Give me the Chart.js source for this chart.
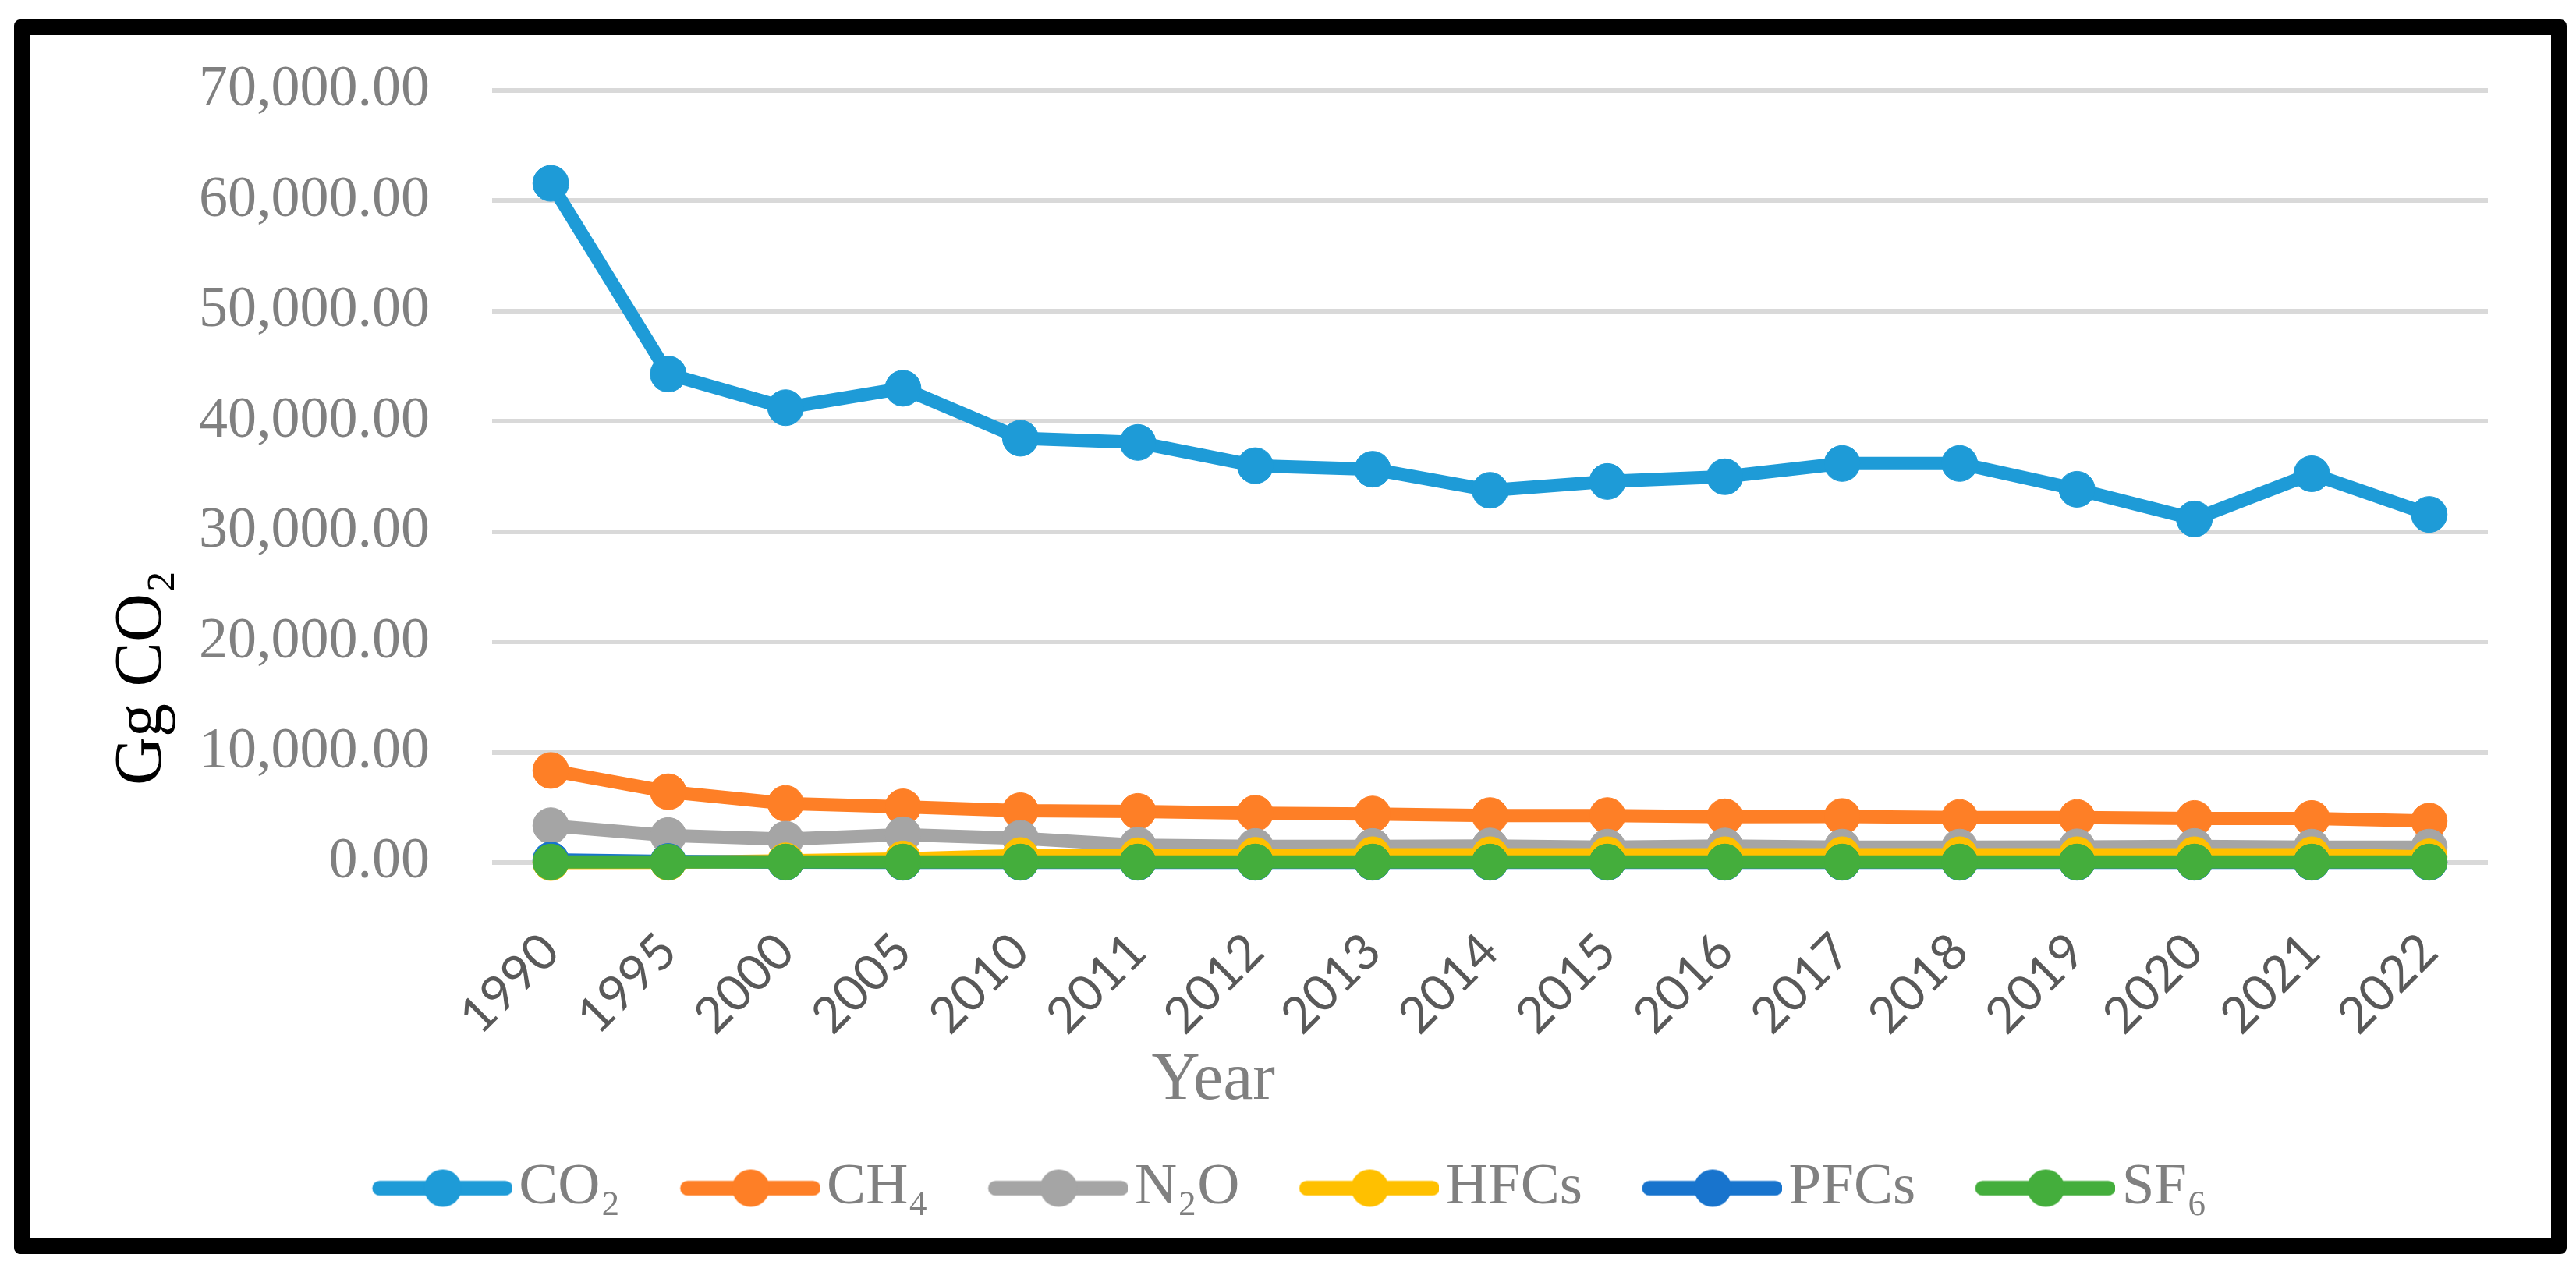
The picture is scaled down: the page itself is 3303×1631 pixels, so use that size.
<!DOCTYPE html>
<html>
<head>
<meta charset="utf-8">
<script src="https://cdn.jsdelivr.net/npm/chart.js"></script>
<style>
  html, body { margin: 0; padding: 0; background: #fff; }
  #frame {
    position: absolute; left: 18px; top: 25px;
    width: 3273px; height: 1583px;
    box-sizing: border-box; border: 20px solid #000; border-radius: 8px;
    background: #fff;
  }
  #wrap { position: relative; width: 3233px; height: 1543px; }
</style>
</head>
<body>
<div id="frame"><div id="wrap"><canvas id="ghgChart"></canvas></div></div>
<script>
// emissions by gas, Gg CO2 eq
const years = ['1990', '1995', '2000', '2005', '2010', '2011', '2012', '2013', '2014',
  '2015', '2016', '2017', '2018', '2019', '2020', '2021', '2022'];
const co2 = [61580, 44290, 41240, 43000, 38470, 38090, 35980, 35660, 33750,
  34550, 34980, 36180, 36180, 33840, 31150, 35250, 31560];
const ch4 = [8350, 6420, 5360, 5050, 4700, 4640, 4470, 4400, 4260,
  4260, 4150, 4180, 4090, 4090, 4000, 4000, 3760];
const n2o = [3340, 2450, 2120, 2520, 2200, 1580, 1460, 1460, 1500,
  1400, 1500, 1400, 1400, 1420, 1460, 1400, 1400];
const hfcs = [0, 20, 160, 330, 640, 620, 660, 710, 710,
  710, 710, 710, 710, 710, 710, 710, 520];
const pfcs = [240, 100, 30, 20, 20, 20, 20, 20, 20,
  20, 20, 20, 20, 20, 20, 20, 20];
const sf6 = [50, 50, 50, 50, 50, 50, 50, 50, 50,
  50, 50, 50, 50, 50, 50, 50, 50];
const gasLabels = ['CO\u2082', 'CH\u2084', 'N\u2082O', 'HFCs', 'PFCs', 'SF\u2086'];
const gasColors = ['#1e9bd7', '#fe7f26', '#a5a5a5', '#ffc000', '#1874cd', '#44ae3c'];
const yTicks = [0, 10000, 20000, 30000, 40000, 50000, 60000, 70000];

const serif = '"Liberation Serif", "Times New Roman", serif';
const nb = (n) => '\u00a0'.repeat(n);

// legend marker: line with a dot, pushed to the right of the image
function legendMarker(color) {
  const c = document.createElement('canvas');
  c.width = 254; c.height = 52;
  const g = c.getContext('2d');
  g.strokeStyle = color;
  g.lineWidth = 19;
  g.lineCap = 'round';
  g.beginPath();
  g.moveTo(254 - 179 + 9, 26);
  g.lineTo(254 - 9, 26);
  g.stroke();
  g.fillStyle = color;
  g.beginPath();
  g.arc(254 - 89, 26, 24, 0, Math.PI * 2);
  g.fill();
  return c;
}

const series = [co2, ch4, n2o, hfcs, pfcs, sf6];
const datasets = series.map((d, i) => ({
  label: gasLabels[i],
  data: d,
  borderColor: gasColors[i],
  backgroundColor: gasColors[i],
  borderWidth: 17,
  borderJoinStyle: 'round',
  pointRadius: 23,
  pointBorderWidth: 1,
  pointBackgroundColor: gasColors[i],
  pointBorderColor: gasColors[i],
  order: 5 - i,
  clip: false
}));

new Chart(document.getElementById('ghgChart'), {
  type: 'line',
  data: { labels: years, datasets: datasets },
  options: {
    responsive: true,
    maintainAspectRatio: false,
    animation: false,
    layout: { padding: { left: 34, right: 81, top: 71, bottom: 17 } },
    plugins: {
      tooltip: { enabled: false },
      legend: {
        position: 'bottom',
        labels: {
          usePointStyle: true,
          pointStyleWidth: 196,
          padding: 31,
          color: '#808080',
          font: { family: serif, size: 75 },
          sort: (a, b) => a.datasetIndex - b.datasetIndex,
          generateLabels: (chart) => {
            const items = Chart.defaults.plugins.legend.labels.generateLabels(chart);
            items.forEach((it) => { it.pointStyle = legendMarker(gasColors[it.datasetIndex]); });
            return items;
          }
        }
      }
    },
    scales: {
      x: {
        offset: true,
        grid: { display: false },
        border: { display: false },
        ticks: {
          color: '#595959',
          font: { family: 'Lato, "Open Sans", sans-serif', size: 64 },
          minRotation: 45,
          maxRotation: 45,
          padding: 68,
          autoSkip: false
        },
        title: {
          display: true,
          text: 'Year' + nb(33),
          color: '#808080',
          font: { family: serif, size: 86 },
          padding: { top: 0, bottom: 17 }
        },
        afterFit: (s) => { s.height = 349; }
      },
      y: {
        min: 0,
        max: 70000,
        afterBuildTicks: (s) => { s.ticks = yTicks.map((v) => ({ value: v })); },
        grid: { color: '#d9d9d9', lineWidth: 6, drawTicks: false },
        border: { display: false },
        ticks: {
          color: '#808080',
          padding: 80,
          font: { family: serif, size: 74 },
          callback: (v) => Number(v).toLocaleString('en-US', { minimumFractionDigits: 2, maximumFractionDigits: 2 })
        },
        title: {
          display: true,
          text: 'Gg CO\u2082' + nb(24),
          color: '#000',
          font: { family: serif, size: 86 },
          padding: { top: 60, bottom: 0 }
        },
        afterFit: (s) => {
          s.width = 559;
          s.paddingTop = 0;
          s.paddingBottom = 0;
        }
      }
    }
  }
});
</script>
</body>
</html>
